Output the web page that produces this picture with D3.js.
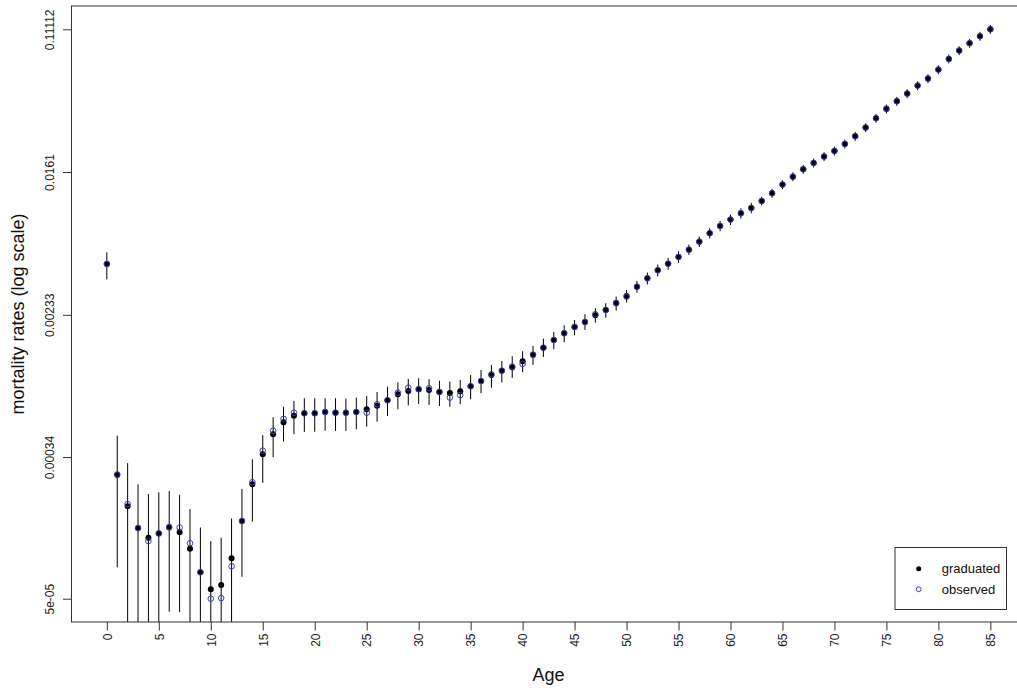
<!DOCTYPE html>
<html>
<head>
<meta charset="utf-8">
<script src="https://cdn.jsdelivr.net/npm/d3@7"></script>
<style>
  html, body { margin: 0; padding: 0; background: #fff; }
  svg { display: block; font-family: "Liberation Sans", Arial, sans-serif; }
</style>
</head>
<body>
<svg id="chart" width="1017" height="688"></svg>
<script>
// ages 0..85
var ages = [
  0, 1, 2, 3, 4, 5, 6, 7, 8, 9,
  10, 11, 12, 13, 14, 15, 16, 17, 18, 19,
  20, 21, 22, 23, 24, 25, 26, 27, 28, 29,
  30, 31, 32, 33, 34, 35, 36, 37, 38, 39,
  40, 41, 42, 43, 44, 45, 46, 47, 48, 49,
  50, 51, 52, 53, 54, 55, 56, 57, 58, 59,
  60, 61, 62, 63, 64, 65, 66, 67, 68, 69,
  70, 71, 72, 73, 74, 75, 76, 77, 78, 79,
  80, 81, 82, 83, 84, 85
];

var graduated = [
  0.00464, 0.000267, 0.000175, 0.000130, 0.000114, 0.000121, 0.000131, 0.000123, 0.0000984, 0.0000715,
  0.0000568, 0.0000602, 0.0000864, 0.000143, 0.000235, 0.000353, 0.000463, 0.000545, 0.000595, 0.000615,
  0.000615, 0.000626, 0.000620, 0.000620, 0.000626, 0.000649, 0.000682, 0.000734, 0.000795, 0.000832,
  0.000851, 0.000843, 0.000821, 0.000810, 0.000829, 0.000887, 0.000952, 0.001033, 0.001095, 0.001147,
  0.001243, 0.001360, 0.001495, 0.001659, 0.001817, 0.001978, 0.002117, 0.002318, 0.002490, 0.002726,
  0.003010, 0.003413, 0.003824, 0.004262, 0.004660, 0.005103, 0.005633, 0.006277, 0.007033, 0.007765,
  0.008455, 0.009220, 0.009906, 0.01089, 0.01209, 0.01358, 0.01513, 0.01673, 0.01822, 0.01984,
  0.02143, 0.02356, 0.02615, 0.02938, 0.03336, 0.03783, 0.04200, 0.04654, 0.05187, 0.05702,
  0.06440, 0.07444, 0.08329, 0.09207, 0.1012, 0.1111
];

var observed = [
  0.00464, 0.000269, 0.000180, 0.000130, 0.000109, 0.000121, 0.000132, 0.000131, 0.000106, 0.0000715,
  0.0000500, 0.0000504, 0.0000775, 0.000143, 0.000242, 0.000371, 0.000486, 0.000570, 0.000620, 0.000615,
  0.000615, 0.000626, 0.000620, 0.000620, 0.000626, 0.000620, 0.000695, 0.000734, 0.000813, 0.000870,
  0.000851, 0.000863, 0.000821, 0.000760, 0.000785, 0.000887, 0.000952, 0.001043, 0.001095, 0.001157,
  0.001199, 0.001360, 0.001495, 0.001659, 0.001817, 0.001978, 0.002117, 0.002350, 0.002490, 0.002740,
  0.002980, 0.003413, 0.003824, 0.004262, 0.004660, 0.005103, 0.005633, 0.006277, 0.007033, 0.007765,
  0.008455, 0.009220, 0.009906, 0.01089, 0.01209, 0.01358, 0.01513, 0.01673, 0.01822, 0.01984,
  0.02143, 0.02356, 0.02615, 0.02938, 0.03336, 0.03800, 0.04200, 0.04654, 0.05187, 0.05702,
  0.06440, 0.07444, 0.08329, 0.09207, 0.1012, 0.1111
];

var lower = [
  0.003773, 0.0000765, 0.000030, 0.000025, 0.000022, 0.000031, 0.0000419, 0.0000416, 0.000029, 0.000012,
  0.0000046, 0.000006, 0.000025, 0.0000673, 0.000142, 0.000240, 0.000339, 0.000419, 0.000463, 0.000478,
  0.000479, 0.000486, 0.000484, 0.000484, 0.000495, 0.000513, 0.000549, 0.000593, 0.000649, 0.000685,
  0.000698, 0.000688, 0.000679, 0.000672, 0.000695, 0.000744, 0.000806, 0.000870, 0.000931, 0.000992,
  0.001072, 0.001183, 0.001318, 0.001463, 0.001608, 0.001768, 0.001899, 0.002097, 0.002244, 0.002467,
  0.002749, 0.003140, 0.003518, 0.003921, 0.004287, 0.004695, 0.005239, 0.005838, 0.006541, 0.007221,
  0.007863, 0.008575, 0.009213, 0.01024, 0.01136, 0.01277, 0.01422, 0.01573, 0.01713, 0.01865,
  0.02014, 0.02215, 0.02458, 0.02762, 0.03136, 0.03556, 0.03948, 0.04375, 0.04876, 0.05360,
  0.06054, 0.06997, 0.07829, 0.08655, 0.09513, 0.1044
];

var upper = [
  0.005438, 0.000454, 0.000313, 0.000235, 0.000206, 0.000211, 0.000215, 0.000204, 0.000168, 0.000131,
  0.000109, 0.000114, 0.000148, 0.000221, 0.000330, 0.000457, 0.000583, 0.000672, 0.000727, 0.000754,
  0.000754, 0.000754, 0.000754, 0.000750, 0.000760, 0.000778, 0.000821, 0.000882, 0.000936, 0.000979,
  0.000988, 0.000975, 0.000956, 0.000944, 0.000965, 0.001033, 0.001105, 0.001183, 0.001249, 0.001331,
  0.001424, 0.001530, 0.001689, 0.001849, 0.002024, 0.002175, 0.002349, 0.002548, 0.002726, 0.002981,
  0.003264, 0.003686, 0.004130, 0.004603, 0.005033, 0.005511, 0.006027, 0.006716, 0.007525, 0.008309,
  0.009047, 0.009865, 0.010599, 0.01154, 0.01282, 0.01439, 0.01604, 0.01773, 0.01931, 0.02103,
  0.02272, 0.02497, 0.02772, 0.03114, 0.03536, 0.04010, 0.04452, 0.04933, 0.05498, 0.06044,
  0.06826, 0.07891, 0.08829, 0.09759, 0.1073, 0.1178
];

var xTicks = [0, 5, 10, 15, 20, 25, 30, 35, 40, 45, 50, 55, 60, 65, 70, 75, 80, 85];
var yTicks = [0.00005, 0.00034, 0.00233, 0.0161, 0.11112];
var yTickLabels = ["5e-05", "0.00034", "0.00233", "0.0161", "0.11112"];
var legendLabels = ["graduated", "observed"];

var svg = d3.select("#chart");
var box = { left: 71.5, right: 1025.7, top: 6, bottom: 622 };

var x = d3.scaleLinear().domain([-3.4, 88.4]).range([box.left, box.right]);
var y = d3.scaleLog().domain([yTicks[0], yTicks[yTicks.length - 1]]).range([598.7, 29.3]);

var obsColor = "#3c3cb4";

svg.append("defs").append("clipPath").attr("id", "plotclip")
  .append("rect")
    .attr("x", box.left).attr("y", box.top)
    .attr("width", box.right - box.left).attr("height", box.bottom - box.top);

var rows = ages.map(function(a, i) {
  return { age: a, gr: graduated[i], ob: observed[i], lo: lower[i], hi: upper[i] };
});

var plot = svg.append("g").attr("clip-path", "url(#plotclip)");

// confidence bars
plot.selectAll(".ci")
  .data(rows)
  .enter().append("line")
    .attr("class", "ci")
    .attr("x1", function(d) { return x(d.age); })
    .attr("x2", function(d) { return x(d.age); })
    .attr("y1", function(d) { return y(d.lo); })
    .attr("y2", function(d) { return y(d.hi); })
    .attr("stroke", "#000")
    .attr("stroke-width", 1);

// graduated rates
plot.selectAll(".gr")
  .data(rows)
  .enter().append("circle")
    .attr("class", "gr")
    .attr("cx", function(d) { return x(d.age); })
    .attr("cy", function(d) { return y(d.gr); })
    .attr("r", 3)
    .attr("fill", "#000");

// observed rates
plot.selectAll(".ob")
  .data(rows)
  .enter().append("circle")
    .attr("class", "ob")
    .attr("cx", function(d) { return x(d.age); })
    .attr("cy", function(d) { return y(d.ob); })
    .attr("r", 2.8)
    .attr("fill", "none")
    .attr("stroke", obsColor)
    .attr("stroke-width", 1);

// frame
svg.append("rect")
  .attr("x", box.left).attr("y", box.top)
  .attr("width", box.right - box.left).attr("height", box.bottom - box.top)
  .attr("fill", "none").attr("stroke", "#333").attr("stroke-width", 1);

// y axis
var yAxis = svg.append("g")
  .attr("transform", "translate(" + box.left + ",0)")
  .call(d3.axisLeft(y).tickValues(yTicks).tickSize(8.5)
    .tickFormat(function(d, i) { return yTickLabels[i]; }));
yAxis.select(".domain").remove();
yAxis.selectAll(".tick line").attr("stroke", "#333");
yAxis.selectAll(".tick text")
  .attr("x", null).attr("dy", null)
  .attr("transform", "translate(-18,0) rotate(-90)")
  .attr("text-anchor", "middle")
  .attr("fill", "#222")
  .style("font-size", "12px")
  .style("font-family", "Liberation Sans, Arial, sans-serif");

// x axis
var xAxis = svg.append("g")
  .attr("transform", "translate(0," + box.bottom + ")")
  .call(d3.axisBottom(x).tickValues(xTicks).tickSize(8.5));
xAxis.select(".domain").remove();
xAxis.selectAll(".tick line").attr("stroke", "#333");
xAxis.selectAll(".tick text")
  .attr("y", null).attr("dy", null)
  .attr("transform", "translate(4.3,11.5) rotate(-90)")
  .attr("text-anchor", "end")
  .attr("fill", "#222")
  .style("font-size", "12px")
  .style("font-family", "Liberation Sans, Arial, sans-serif");

// axis titles
svg.append("text")
  .attr("x", (box.left + box.right) / 2)
  .attr("y", 680.5)
  .attr("text-anchor", "middle")
  .style("font-size", "18px")
  .attr("fill", "#111")
  .text("Age");

svg.append("text")
  .attr("transform", "translate(24," + ((box.top + box.bottom) / 2) + ") rotate(-90)")
  .attr("text-anchor", "middle")
  .style("font-size", "18px")
  .attr("fill", "#111")
  .text("mortality rates (log scale)");

// legend
var legend = svg.append("g");
legend.append("rect")
  .attr("x", 895).attr("y", 547.5).attr("width", 111.5).attr("height", 62)
  .attr("fill", "#fff").attr("stroke", "#333").attr("stroke-width", 1);

var items = legend.selectAll(".item")
  .data(legendLabels)
  .enter().append("g")
    .attr("class", "item")
    .attr("transform", function(d, i) { return "translate(918.7," + (568.7 + i * 20.6) + ")"; });

items.append("circle")
  .attr("r", function(d, i) { return i === 0 ? 2.5 : 2.4; })
  .attr("fill", function(d, i) { return i === 0 ? "#000" : "none"; })
  .attr("stroke", function(d, i) { return i === 0 ? "none" : obsColor; })
  .attr("stroke-width", 1);

items.append("text")
  .attr("x", 23)
  .attr("dy", "0.36em")
  .style("font-size", "13px")
  .attr("fill", "#111")
  .text(function(d) { return d; });
</script>
</body>
</html>
